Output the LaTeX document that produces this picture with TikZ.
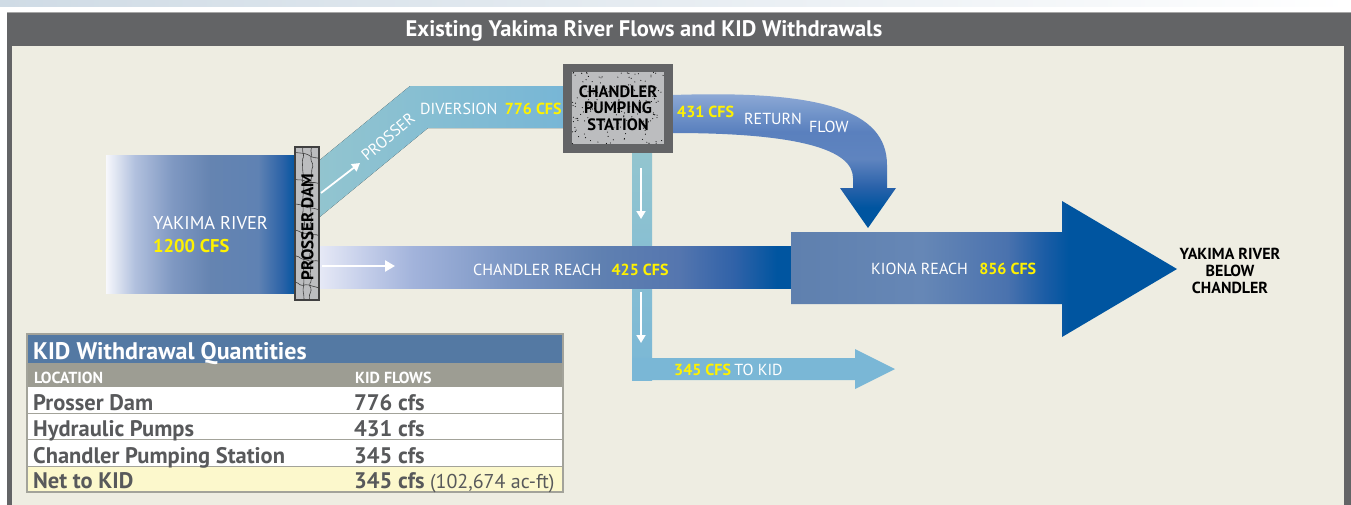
\documentclass[tikz,border=0pt]{standalone}
\usepackage{fontspec}
\setmainfont{PT Sans}
\usepackage{tikz}
\usetikzlibrary{positioning, arrows.meta, decorations.pathmorphing}

\definecolor{framegray}{HTML}{636466}
\definecolor{paper}{HTML}{EEEDE2}
\definecolor{stripe}{HTML}{CFDBE5}
\definecolor{darkblue}{HTML}{0055A0}
\definecolor{divteal}{HTML}{93C5CF}
\definecolor{divblue}{HTML}{77B6D6}
\definecolor{kidblue}{HTML}{7AB7D6}
\definecolor{cfsyellow}{HTML}{FFF200}
\definecolor{stonegray}{HTML}{BCBDBF}
\definecolor{tabblue}{HTML}{5479A3}
\definecolor{tabgray}{HTML}{9D9D93}
\definecolor{tabtext}{HTML}{58595B}
\definecolor{netyellow}{HTML}{FCF8CC}
\definecolor{ruleline}{HTML}{A3A39A}

% river colours
\definecolor{ya}{HTML}{F7F8FC}\definecolor{yb}{HTML}{B2C1DE}\definecolor{yc}{HTML}{7F98C2}
\definecolor{yd}{HTML}{6584B1}\definecolor{ye}{HTML}{5F82B3}\definecolor{yf}{HTML}{2A62A7}
\pgfdeclarehorizontalshading{yakimashade}{100bp}{color(0bp)=(ya); color(25bp)=(ya);
  color(32.5bp)=(yb); color(42.5bp)=(yc); color(52.5bp)=(yd); color(65bp)=(ye);
  color(71.5bp)=(yf); color(75bp)=(darkblue); color(100bp)=(darkblue)}

\definecolor{ca}{HTML}{E6E9F6}\definecolor{cb}{HTML}{C3CDE9}\definecolor{cc}{HTML}{A2B3DB}
\definecolor{cd}{HTML}{7B96C4}\definecolor{ce}{HTML}{5F80B1}\definecolor{cf}{HTML}{5576AF}
\definecolor{cg}{HTML}{3062A8}
\pgfdeclarehorizontalshading{reachshade}{100bp}{color(0bp)=(ca); color(25bp)=(ca);
  color(30bp)=(cb); color(35bp)=(cc); color(45bp)=(cd); color(55bp)=(ce);
  color(63bp)=(cf); color(69bp)=(cg); color(73.5bp)=(darkblue); color(100bp)=(darkblue)}

\definecolor{ka}{HTML}{5F80AE}\definecolor{kb}{HTML}{6687B6}\definecolor{kc}{HTML}{4A72AE}
\definecolor{kd}{HTML}{1A5CA5}
\pgfdeclarehorizontalshading{kionashade}{100bp}{color(0bp)=(ka); color(25bp)=(ka);
  color(42bp)=(kb); color(53bp)=(kc); color(58bp)=(kd); color(61bp)=(darkblue);
  color(100bp)=(darkblue)}

\definecolor{ra}{HTML}{93ADD8}\definecolor{rb}{HTML}{7597CB}\definecolor{rc}{HTML}{5A80BE}
\definecolor{rd}{HTML}{5F84BF}\definecolor{re}{HTML}{2A62AA}
\pgfdeclareverticalshading{returnshade}{100bp}{color(0bp)=(darkblue); color(32.5bp)=(darkblue);
  color(40bp)=(re); color(50bp)=(rd); color(60bp)=(rc); color(67.5bp)=(rb);
  color(75bp)=(ra); color(100bp)=(ra)}

\tikzset{
  flowlbl/.style={text=white, font=\fontsize{16}{18}\selectfont, inner sep=0pt},
  cfs/.style={text=cfsyellow, font=\bfseries\fontsize{16}{18}\selectfont, inner sep=0pt},
  flowarrow/.style={draw=white, line width=2.4pt, -{Triangle[length=10pt, width=11pt]}},
  smallarrow/.style={draw=white, line width=1.8pt, -{Triangle[length=8pt, width=9pt]}},
  damline/.style={draw=black!75, line width=0.6pt, rounded corners=1.5pt,
    decorate, decoration={random steps, segment length=5pt, amplitude=1.6pt}},
  tabhead/.style={text=white, font=\bfseries\fontsize{16}{18}\selectfont, inner sep=0pt, anchor=base west},
  tabrow/.style={text=tabtext, font=\bfseries\fontsize{22.5}{24}\selectfont, inner sep=0pt, anchor=base west}
}

\begin{document}
\begin{tikzpicture}[x=1pt, y=-1pt]
\useasboundingbox (0,0) rectangle (1351,504);
\fill[white] (0,0) rectangle (1351,504);
\shade[left color=stripe, right color=white] (0,0) rectangle (1351,6);

% frame and title bar
\fill[framegray] (7,12) rectangle (1351,510);
\draw[black!35, line width=1pt] (7,12.5) -- (1351,12.5);
\fill[paper] (12,46) rectangle (1344,510);
\node[text=white, font=\bfseries\fontsize{22.5}{24}\selectfont] (title) at (644,31)
  {Existing Yakima River Flows and KID Withdrawals};

% bands
\fill[top color=divteal, bottom color=kidblue] (632,150) rectangle (652,380);
\fill[kidblue] (632,358) -- (855,358) -- (855,349) -- (895,369) -- (855,389)
  -- (855,380) -- (632,380) -- cycle;
\fill[left color=divteal, right color=divblue] (310,168) -- (410,86) -- (565,86)
  -- (565,128) -- (428,128) -- (310,225) -- cycle;
\shade[shading=reachshade] (319,246) rectangle (791,288);
\shade[shading=kionashade] (791,232) -- (1062,232) -- (1062,201) -- (1177,269)
  -- (1062,337) -- (1062,304) -- (791,304) -- cycle;
\shade[shading=returnshade] (673,95) .. controls (820,90) and (887,110) .. (887,165)
  -- (887,188) -- (896,188) -- (868,228) -- (840,188) -- (853,188) -- (853,178)
  .. controls (853,150) and (800,133) .. (673,133) -- cycle;
\shade[shading=yakimashade] (106,155) rectangle (296,293);

% prosser dam
\fill[stonegray] (295,147) rectangle (319,300);
\begin{scope}
  \clip (295,147) rectangle (319,300);
  \foreach \yy in {152,178,...,300}
    \draw[damline] (292,\yy) -- (322,\yy+7);
  \draw[damline] (303,145) -- (304,302);
  \draw[damline] (312,145) -- (310,302);
\end{scope}
\draw[black!75, line width=1.4pt] (295,147) rectangle (319,300);
\node[rotate=90, font=\bfseries\fontsize{17}{18}\selectfont, inner sep=0pt] (dam) at (307.5,227) {PROSSER DAM};

% chandler pumping station
\fill[framegray] (563,64) rectangle (673,153);
\fill[stonegray] (572,72) rectangle (664,144);
\pgfmathsetseed{11}
\foreach \i in {1,...,170}
  \fill[black] ({572+92*rnd},{72+72*rnd}) circle (0.55);
\node[align=center, font=\bfseries\fontsize{16.5}{16.5}\selectfont, inner sep=0pt] (station) at (618,108)
  {CHANDLER\\PUMPING\\STATION};

% white flow arrows
\coordinate (d1) at (321,193); \coordinate (d2) at (360,163);
\coordinate (c1) at (322,266); \coordinate (c2) at (395,266);
\coordinate (p1) at (641,168); \coordinate (p2) at (641,219);
\coordinate (p3) at (641,292); \coordinate (p4) at (641,343);
\draw[smallarrow] (d1) -- (d2);
\draw[flowarrow] (c1) -- (c2);
\draw[smallarrow] (p1) -- (p2);
\draw[smallarrow] (p3) -- (p4);

% flow labels
\node[flowlbl, font=\fontsize{18.5}{20}\selectfont, anchor=base west] (yakima) at (153,229) {YAKIMA RIVER};
\node[cfs, font=\bfseries\fontsize{18.5}{20}\selectfont, anchor=base west] (yakcfs) at (153,252) {1200 CFS};
\node[flowlbl, rotate=40] (prosser) at (388,137) {PROSSER};
\node[flowlbl, anchor=base west] (diversion) at (420,114) {DIVERSION};
\node[cfs, base right=7pt of diversion] (divcfs) {776 CFS};
\node[cfs, anchor=base west] (retcfs) at (677,117) {431 CFS};
\node[flowlbl, anchor=base west] (ret) at (744,124) {RETURN};
\node[flowlbl, anchor=base west] (flow) at (809,132) {FLOW};
\node[flowlbl, anchor=base west] (reach) at (473,275) {CHANDLER REACH};
\node[cfs, base right=10pt of reach] (reachcfs) {425 CFS};
\node[flowlbl, anchor=base west] (kiona) at (871,274) {KIONA REACH};
\node[cfs, base right=11pt of kiona] (kionacfs) {856 CFS};
\node[cfs, anchor=base west] (kidcfs) at (674,375) {345 CFS};
\node[flowlbl, base right=3pt of kidcfs] (tokid) {TO KID};
\node[align=center, font=\bfseries\fontsize{16}{17}\selectfont, inner sep=0pt] (below) at (1230,271)
  {YAKIMA RIVER\\BELOW\\CHANDLER};

% withdrawal table
\fill[tabblue] (27,334) rectangle (563,363);
\fill[tabgray] (27,363) rectangle (563,387);
\fill[white] (27,387) rectangle (563,466);
\fill[netyellow] (27,466) rectangle (563,492);
\draw[ruleline, line width=0.8pt] (27,413) -- (563,413) (27,439) -- (563,439) (27,466) -- (563,466);
\draw[ruleline, line width=1.2pt] (27,334) rectangle (563,492);
\node[text=white, font=\bfseries\fontsize{24}{26}\selectfont, inner sep=0pt, anchor=base west] (tabtitle) at (33,359)
  {KID Withdrawal Quantities};
\node[tabhead] (loc) at (34,383) {LOCATION};
\node[tabhead] (flows) at (355,383) {KID FLOWS};
\node[tabrow] (r1) at (33,410) {Prosser Dam};
\node[tabrow] (v1) at (354,410) {776 cfs};
\node[tabrow] (r2) at (33,436) {Hydraulic Pumps};
\node[tabrow] (v2) at (354,436) {431 cfs};
\node[tabrow] (r3) at (33,463) {Chandler Pumping Station};
\node[tabrow] (v3) at (354,463) {345 cfs};
\node[tabrow] (r4) at (33,488) {Net to KID};
\node[tabrow] (v4) at (354,488) {345 cfs};
\node[text=tabtext, font=\fontsize{20}{22}\selectfont, inner sep=0pt, base right=5pt of v4] (acft) {(102,674 ac-ft)};
\end{tikzpicture}
\end{document}
